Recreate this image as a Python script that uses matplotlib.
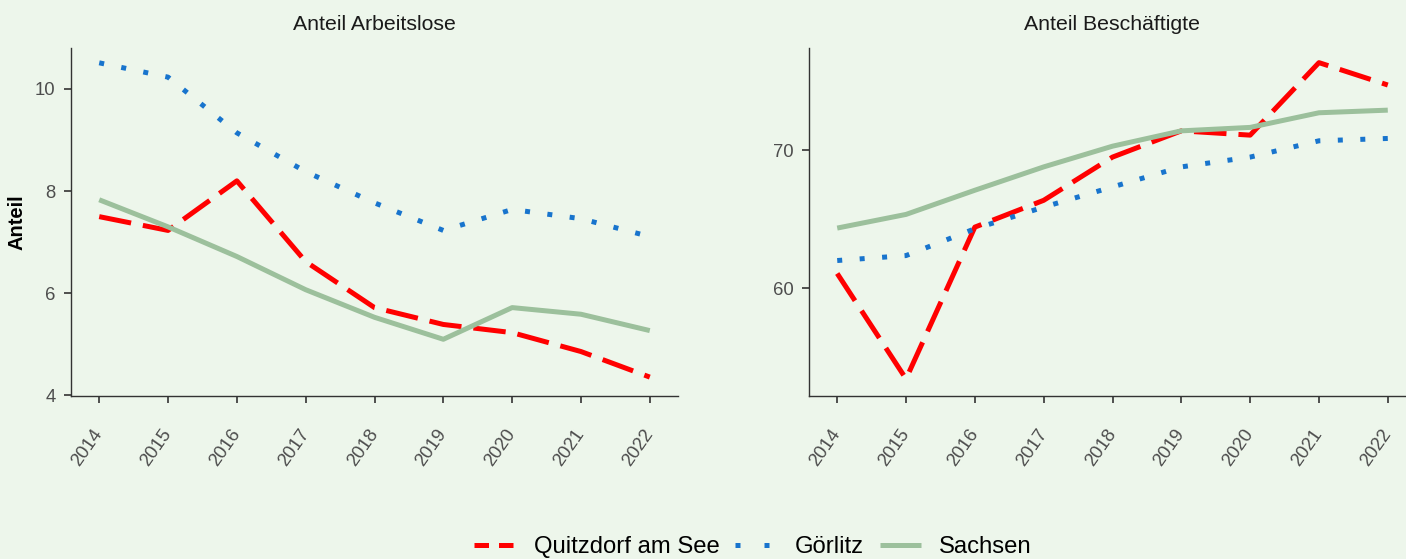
import numpy as np
import matplotlib.pyplot as plt
from matplotlib.lines import Line2D

plt.rcParams['font.family'] = ['Liberation Sans', 'DejaVu Sans']

# data
years = [2014, 2015, 2016, 2017, 2018, 2019, 2020, 2021, 2022]

arbeitslose_quitzdorf = [7.50, 7.23, 8.20, 6.62, 5.72, 5.39, 5.23, 4.86, 4.36]
arbeitslose_goerlitz = [10.51, 10.23, 9.14, 8.38, 7.77, 7.23, 7.64, 7.46, 7.11]
arbeitslose_sachsen = [7.83, 7.30, 6.72, 6.07, 5.53, 5.10, 5.72, 5.59, 5.27]

beschaeftigte_quitzdorf = [61.07, 53.44, 64.43, 66.37, 69.50, 71.40, 71.09, 76.34, 74.72]
beschaeftigte_goerlitz = [62.01, 62.37, 64.31, 65.88, 67.34, 68.79, 69.50, 70.68, 70.85]
beschaeftigte_sachsen = [64.36, 65.35, 67.10, 68.79, 70.29, 71.40, 71.65, 72.71, 72.90]

series_names = ['Quitzdorf am See', 'Görlitz', 'Sachsen']
panel_titles = ['Anteil Arbeitslose', 'Anteil Beschäftigte']

bg = '#edf6eb'
red = '#ff0000'
blue = '#1874cd'
green = '#9cc09c'
txt_col = '#4d4d4d'
axis_col = '#333333'

W, H = 1406, 559
fig = plt.figure(figsize=(W / 100, H / 100), dpi=100)
fig.patch.set_facecolor(bg)

lw = 3.6
styles = [
    dict(color=red, lw=lw, dashes=(6.5, 2.4), dash_capstyle='butt'),
    dict(color=blue, lw=lw, dashes=(1.0, 3.5), dash_capstyle='butt'),
    dict(color=green, lw=lw, solid_capstyle='butt'),
]


def make_panel(x0, data, title, ylim, yticks):
    ax = fig.add_axes([x0 / W, (H - 396) / H, 607 / W, 348 / H])
    ax.set_facecolor(bg)
    for vals, st in zip(data, styles):
        ax.plot(years, vals, **st)
    ax.set_xlim(2013.59, 2022.41)
    ax.set_ylim(*ylim)
    ax.set_xticks(years)
    ax.set_yticks(yticks)
    ax.set_xticklabels([str(y) for y in years], rotation=55, ha='right', va='center',
                       rotation_mode='anchor')
    for s in ['top', 'right']:
        ax.spines[s].set_visible(False)
    for s in ['left', 'bottom']:
        ax.spines[s].set_color(axis_col)
        ax.spines[s].set_linewidth(1.0)
    ax.tick_params(axis='x', colors=axis_col, labelcolor=txt_col, labelsize=13.3,
                   length=5, width=1.2, pad=20)
    ax.tick_params(axis='y', colors=axis_col, labelcolor=txt_col, labelsize=13.3,
                   length=5, width=1.2, pad=6)
    ax.set_title(title, fontsize=15.3, color='#1a1a1a', pad=13)
    return ax


ax1 = make_panel(71, [arbeitslose_quitzdorf, arbeitslose_goerlitz, arbeitslose_sachsen],
                 panel_titles[0], (3.99, 10.8), [4, 6, 8, 10])
ax1.set_ylabel('Anteil', fontsize=14.5, fontweight='bold', va='center')
ax1.yaxis.set_label_coords((17 - 71) / 607, 0.5)

ax2 = make_panel(809, [beschaeftigte_quitzdorf, beschaeftigte_goerlitz, beschaeftigte_sachsen],
                 panel_titles[1], (52.2, 77.4), [60, 70])

# legend keys use shorter patterns, as in the reference
leg_styles = [
    dict(color=red, lw=lw, dashes=(2.9, 2.0), dash_capstyle='butt'),
    dict(color=blue, lw=lw, dashes=(1.0, 4.8), dash_capstyle='butt'),
    dict(color=green, lw=lw, solid_capstyle='butt'),
]
handles = [Line2D([], [], **st) for st in leg_styles]
fig.legend(handles, series_names, loc='center', bbox_to_anchor=(753 / W, 12 / H),
           ncol=3, frameon=False, fontsize=17.2, handlelength=1.75, handletextpad=0.75,
           columnspacing=0.65)

fig.savefig('out.png', dpi=100, facecolor=bg)
